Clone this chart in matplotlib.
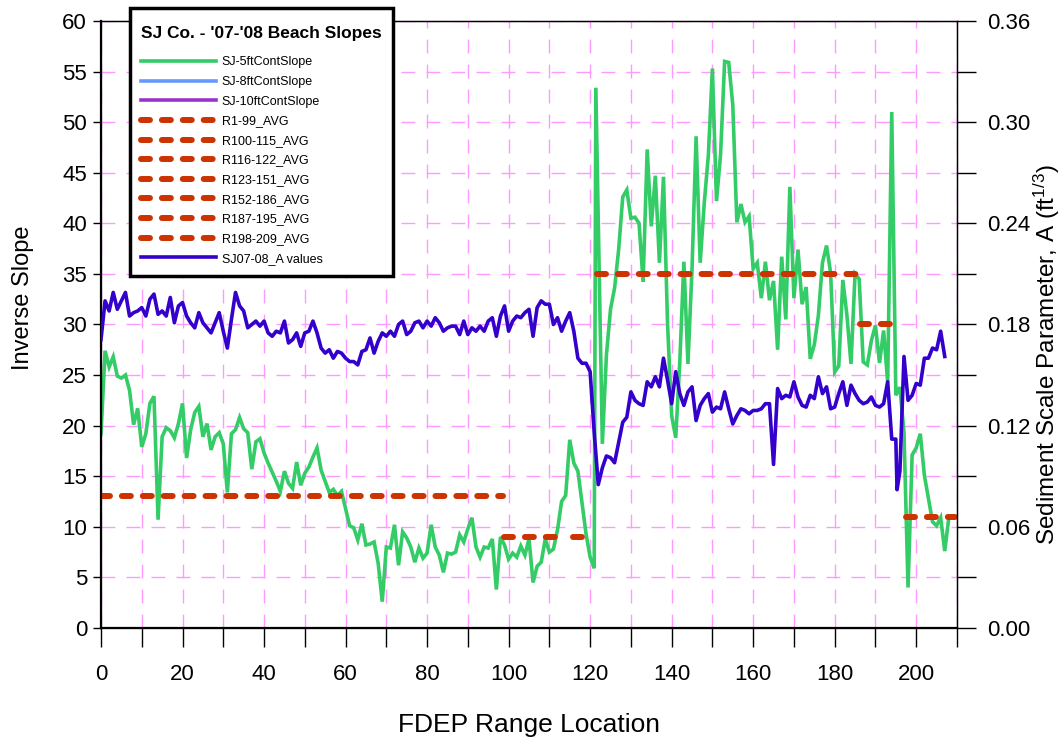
import numpy as np
import matplotlib
matplotlib.use("Agg")
import matplotlib.pyplot as plt
from matplotlib.ticker import MultipleLocator, FormatStrFormatter
from matplotlib.offsetbox import VPacker, DrawingArea

plt.rcParams['font.family'] = ['Liberation Sans', 'DejaVu Sans']
plt.rcParams['mathtext.default'] = 'regular'

# ---------------- data ----------------
# SJ-5ftContSlope (inverse slope, left axis)
slope5_x = np.r_[np.arange(0, 122), 121.4, np.arange(123, 209)]
slope5 = [
    19.2, 27.4, 25.8, 26.8, 24.9, 24.7, 25.0, 23.5, 20.1, 21.7,
    17.9, 19.2, 22.2, 22.9, 10.7, 18.9, 19.8, 19.5, 18.8, 20.2,
    22.2, 16.8, 19.6, 21.3, 21.9, 18.9, 20.2, 17.6, 18.9, 19.3,
    18.2, 13.4, 19.2, 19.6, 20.8, 19.7, 19.3, 15.7, 18.4, 18.7,
    17.3, 16.3, 15.4, 14.5, 13.5, 15.5, 14.3, 13.8, 16.4, 14.1,
    15.3, 15.9, 16.9, 17.8, 15.6, 14.5, 13.4, 13.7, 13.1, 13.5,
    11.8, 10.1, 9.9, 8.7, 10.3, 8.2, 8.3, 8.5, 6.4, 2.6,
    8.0, 7.9, 10.2, 6.2, 9.5, 8.9, 8.0, 6.5, 7.9, 6.9,
    7.4, 10.2, 8.0, 7.2, 5.5, 7.4, 7.3, 7.5, 9.2, 8.5,
    9.8, 10.9, 8.0, 7.0, 8.0, 7.9, 8.8, 3.8, 9.0, 8.2,
    6.8, 7.4, 7.0, 8.1, 7.2, 8.8, 4.5, 6.1, 6.5, 8.8,
    7.5, 7.8, 9.7, 12.5, 13.1, 18.6, 16.3, 15.5, 12.4, 9.3,
    7.0, 5.9,
    53.4,
    18.2, 27.0, 31.5, 33.6, 37.4, 42.6, 43.3,
    40.5, 40.6, 40.0, 34.2, 47.3, 39.7, 44.7, 36.1, 44.6, 30.0,
    21.0, 18.8, 26.3, 36.2, 26.1, 35.5, 48.6, 36.1, 42.0, 46.7,
    55.3, 42.2, 46.8, 56.0, 55.9, 51.7, 40.1, 41.9, 40.1, 40.7,
    35.5, 36.1, 32.6, 36.2, 32.4, 34.3, 27.5, 36.7, 30.5, 43.6,
    32.6, 37.4, 32.0, 33.7, 26.6, 28.0, 30.9, 36.1, 37.8, 35.1,
    25.3, 25.9, 34.4, 30.9, 26.1, 35.0, 34.5, 26.3, 26.0, 28.4,
    29.9, 26.2, 29.4, 24.3, 51.0, 23.0, 23.8, 19.3, 4.0, 17.1,
    17.8, 19.2, 15.1, 12.8, 10.5, 10.1, 10.9, 7.6, 10.9,
]

# SJ-8ft / SJ-10ft contour slopes: no visible data in the chart
slope8_x, slope8 = [], []
slope10_x, slope10 = [], []

# Sediment scale parameter A (right axis)
a_x = np.r_[np.arange(0, 196), 195.3, np.arange(196, 208)]
a_values = [
    .171, .194, .188, .199, .189, .194, .199, .185, .187, .188,
    .190, .185, .195, .198, .186, .188, .185, .196, .181, .191,
    .193, .185, .181, .178, .187, .181, .178, .175, .181, .187,
    .176, .166, .183, .199, .191, .188, .178, .180, .182, .179,
    .182, .175, .173, .176, .175, .182, .169, .171, .175, .167,
    .175, .176, .182, .175, .166, .163, .165, .160, .164, .163,
    .160, .158, .158, .156, .164, .165, .172, .163, .170, .175,
    .173, .176, .173, .180, .182, .174, .176, .181, .182, .178,
    .182, .179, .184, .181, .176, .178, .179, .179, .174, .182,
    .174, .178, .176, .179, .176, .182, .184, .173, .185, .191,
    .176, .182, .185, .184, .187, .189, .173, .190, .194, .192,
    .192, .180, .184, .176, .182, .187, .176, .160, .157, .157,
    .152, .116, .085, .095, .102, .101, .098, .110, .122, .125,
    .140, .135, .133, .132, .146, .143, .149, .143, .160, .147,
    .133, .152, .139, .132, .140, .143, .123, .132, .136, .139,
    .128, .131, .130, .140, .130, .121, .126, .130, .129, .127,
    .129, .129, .130, .133, .133, .097, .142, .136, .138, .137,
    .146, .137, .132, .131, .138, .136, .149, .139, .143, .130,
    .131, .139, .146, .132, .144, .139, .135, .133, .134, .137,
    .132, .131, .133, .146, .112, .112,
    .082,
    .093, .161, .135, .138, .145, .144, .160, .160, .166, .165, .176, .161,
]

# Reach averages (inverse slope)
avg_labels = ['R1-99_AVG', 'R100-115_AVG', 'R116-122_AVG', 'R123-151_AVG',
              'R152-186_AVG', 'R187-195_AVG', 'R198-209_AVG']
avg_values = [13.0, 9.0, 9.0, 35.0, 35.0, 30.0, 11.0]
avg_start = [0.0, 98.8, 115.7, 121.8, 152.2, 186.1, 197.4]
avg_end = [98.6, 113.3, 119.4, 150.8, 185.7, 194.9, 209.6]

# ---------------- styling ----------------
GREEN = '#33cc66'
LBLUE = '#6699ff'
PURPLE = '#9933cc'
RED = '#cc3300'
BLUE = '#3300cc'
GRID = '#ff99ff'

fig = plt.figure(figsize=(10.62, 7.38), dpi=100)
ax = fig.add_axes([0.0951, 0.1491, 0.8060, 0.8225])
ax2 = ax.twinx()

ax.set_xlim(0, 210)
ax.set_ylim(0, 60)
ax2.set_ylim(0, 0.36)

ax.xaxis.set_major_locator(MultipleLocator(20))
ax.xaxis.set_minor_locator(MultipleLocator(10))
ax.yaxis.set_major_locator(MultipleLocator(5))
ax2.yaxis.set_major_locator(MultipleLocator(0.06))
ax2.yaxis.set_minor_locator(MultipleLocator(0.03))
ax2.yaxis.set_major_formatter(FormatStrFormatter('%.2f'))

ax.set_axisbelow(True)
ax.grid(True, which='both', axis='x', color=GRID, lw=1.0, dashes=(10, 8))
ax.grid(True, which='major', axis='y', color=GRID, lw=1.0, dashes=(10, 8))

# lines
l5, = ax.plot(slope5_x, slope5, color=GREEN, lw=2.6, solid_joinstyle='miter',
              label='SJ-5ftContSlope', zorder=2)
l8, = ax.plot(slope8_x, slope8, color=LBLUE, lw=2.6, label='SJ-8ftContSlope')
l10, = ax.plot(slope10_x, slope10, color=PURPLE, lw=2.6, label='SJ-10ftContSlope')

avg_handles = []
for lab, v, s, e in zip(avg_labels, avg_values, avg_start, avg_end):
    h, = ax.plot([s, e], [v, v], color=RED, lw=4.3, dashes=(1.5, 2.0),
                 dash_capstyle='round', label=lab, zorder=3)
    avg_handles.append(h)

la, = ax2.plot(a_x, a_values, color=BLUE, lw=2.6, label='SJ07-08_A values', zorder=4)

# spines / ticks
for spine in ['left', 'bottom']:
    ax.spines[spine].set_linewidth(1.6)
ax.spines['top'].set_linewidth(1.0)
ax2.spines['right'].set_linewidth(1.0)

ax.tick_params(axis='x', which='both', direction='out', length=14, width=1.0,
               pad=12, labelsize=16)
ax.tick_params(axis='y', which='both', direction='out', length=6, width=1.0,
               pad=4, labelsize=16)
ax2.tick_params(axis='y', which='both', direction='out', length=14, width=1.0,
                pad=8, labelsize=16)

ax.set_xlabel('FDEP Range Location', fontsize=19, labelpad=20)
ax.set_ylabel('Inverse Slope', fontsize=17)
ax.yaxis.set_label_coords(-0.078, 0.544)
ax2.set_ylabel('Sediment Scale Parameter, A (ft$^{1/3}$)', fontsize=17.5)
ax2.yaxis.set_label_coords(1.088, 0.45)

handles = [l5, l8, l10] + avg_handles + [la]
leg = fig.legend(handles=handles, labels=[h.get_label() for h in handles],
                 loc='upper left', bbox_to_anchor=(0.1224, 0.9892),
                 fontsize=9, title="SJ Co. - '07-'08 Beach Slopes",
                 title_fontproperties={'weight': 'bold', 'size': 12.5},
                 alignment='left',
                 handlelength=6.0, handletextpad=0.45, labelspacing=0.61,
                 borderpad=0.9, borderaxespad=0.0, fancybox=False,
                 framealpha=1.0, edgecolor='black')
leg.get_frame().set_linewidth(2.5)
# extra room above the title and between title and entries
title_box = leg._legend_box._children[0]
leg._legend_box._children[0] = VPacker(children=[DrawingArea(1, 5), title_box],
                                       pad=0, sep=0, align='center')
leg._legend_box.sep = 11

fig.savefig('out.png', dpi=100)
